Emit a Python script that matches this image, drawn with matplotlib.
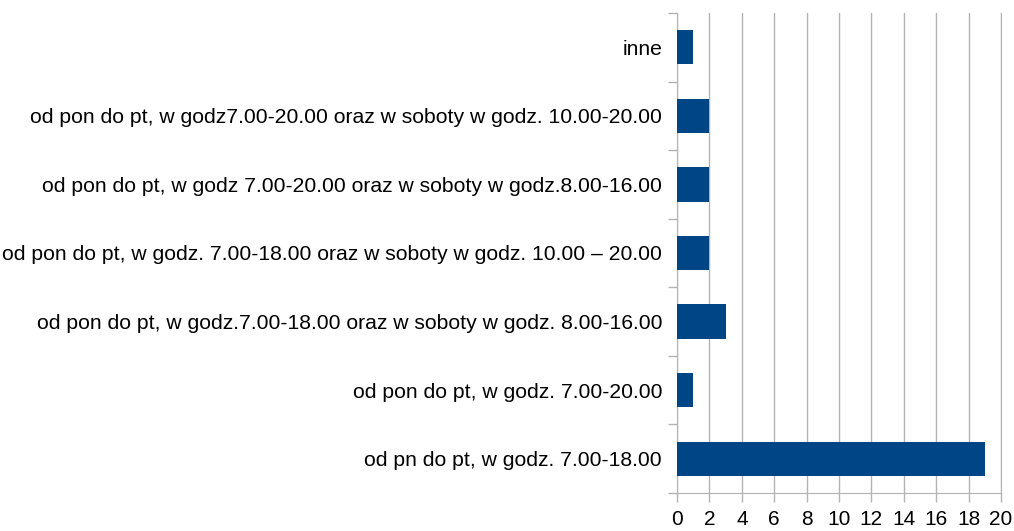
import matplotlib
matplotlib.use("Agg")
import matplotlib.pyplot as plt
import numpy as np

categories = [
    "od pn do pt, w godz. 7.00-18.00",
    "od pon do pt, w godz. 7.00-20.00",
    "od pon do pt, w godz.7.00-18.00 oraz w soboty w godz. 8.00-16.00",
    "od pon do pt, w godz. 7.00-18.00 oraz w soboty w godz. 10.00 \u2013 20.00",
    "od pon do pt, w godz 7.00-20.00 oraz w soboty w godz.8.00-16.00",
    "od pon do pt, w godz7.00-20.00 oraz w soboty w godz. 10.00-20.00",
    "inne",
]
values = [19, 1, 3, 2, 2, 2, 1]
xticks = list(range(0, 21, 2))

plt.rcParams['font.family'] = ['Liberation Sans', 'DejaVu Sans']
fig = plt.figure(figsize=(10.14, 5.31), dpi=100)
ax = fig.add_axes([0.6677, 0.0716, 0.9872 - 0.6677, 0.9755 - 0.0716])

y = np.arange(len(categories))
ax.barh(y, values, height=0.5, color="#004586", zorder=3)
ax.set_xlim(0, 20)
ax.set_ylim(-0.5, len(categories) - 0.5)
ax.set_xticks(xticks)
ax.set_xticklabels([str(t) for t in xticks], fontsize=15)
ax.set_yticks(y)
ax.set_yticklabels(categories, fontsize=15.2)
ax.set_yticks(np.arange(-0.5, len(categories), 1), minor=True)
ax.tick_params(axis='y', which='major', length=0, pad=10.8)
ax.tick_params(axis='y', which='minor', length=6.5, color="#b3b3b3", width=1)
ax.tick_params(axis='x', length=6.5, color="#b3b3b3", width=1, pad=6)
ax.grid(axis='x', color="#b3b3b3", linewidth=1, zorder=0)
for s in ['top']:
    ax.spines[s].set_visible(False)
for s in ['left', 'bottom', 'right']:
    ax.spines[s].set_color("#b3b3b3")
fig.savefig("out.png", dpi=100)
